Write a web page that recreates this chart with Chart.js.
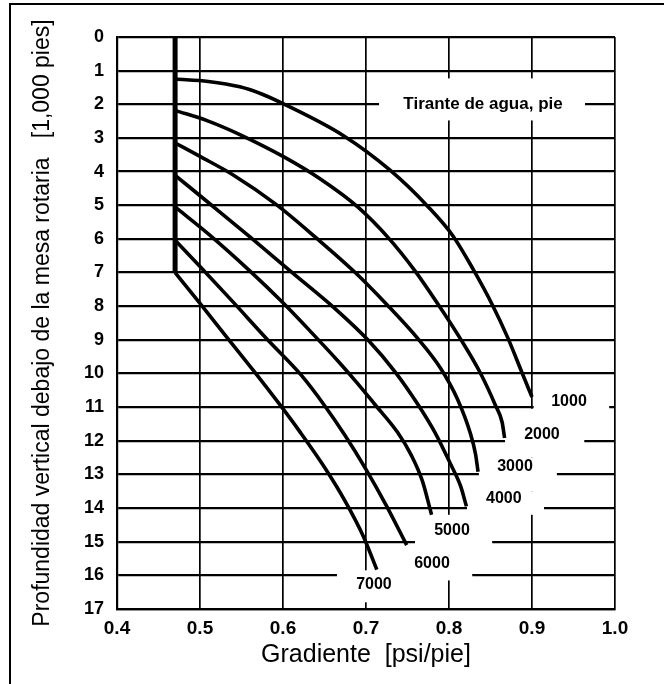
<!DOCTYPE html>
<html>
<head>
<meta charset="utf-8">
<script src="https://cdn.jsdelivr.net/npm/chart.js@4.4.1/dist/chart.umd.min.js"></script>
<style>
  html, body { margin: 0; padding: 0; background: #fff; }
</style>
</head>
<body>
<canvas id="grafica" width="664" height="684"></canvas>
<script>
// ticks
const gradTicks = [0.4, 0.5, 0.6, 0.7, 0.8, 0.9, 1.0];
const gradLabels = ["0.4", "0.5", "0.6", "0.7", "0.8", "0.9", "1.0"];
const profTicks = [0, 1, 2, 3, 4, 5, 6, 7, 8, 9, 10, 11, 12, 13, 14, 15, 16, 17];

// tirante de agua (pie)
const tirantes = [1000, 2000, 3000, 4000, 5000, 6000, 7000];

// linea vertical comun
const gradVertical = [0.47, 0.47];
const profVertical = [0, 7];

// curvas: gradiente [psi/pie] vs profundidad [1,000 pies]
const grad1000 = [0.47, 0.51, 0.548, 0.575, 0.6, 0.672, 0.729, 0.775, 0.805, 0.829, 0.852, 0.871, 0.888, 0.9];
const prof1000 = [1.25, 1.32, 1.48, 1.7, 1.98, 2.92, 3.96, 5.05, 5.92, 6.9, 7.95, 8.95, 9.98, 10.7];

const grad2000 = [0.47, 0.51, 0.548, 0.6, 0.645, 0.69, 0.727, 0.759, 0.787, 0.814, 0.837, 0.856, 0.864, 0.867];
const prof2000 = [2.18, 2.5, 2.9, 3.55, 4.22, 5.05, 5.97, 6.95, 7.95, 8.98, 9.95, 10.95, 11.45, 11.92];

const grad3000 = [0.47, 0.5, 0.54, 0.592, 0.64, 0.687, 0.725, 0.763, 0.79, 0.81, 0.826, 0.832, 0.835];
const prof3000 = [3.15, 3.55, 4.1, 4.98, 5.97, 7.0, 7.95, 8.98, 9.85, 10.75, 11.8, 12.4, 12.92];

const grad4000 = [0.47, 0.514, 0.562, 0.61, 0.664, 0.703, 0.735, 0.762, 0.783, 0.802, 0.814, 0.821];
const prof4000 = [4.11, 5.0, 5.98, 6.98, 8.1, 9.02, 9.95, 10.9, 11.75, 12.7, 13.35, 13.95];

const grad5000 = [0.47, 0.51, 0.56, 0.6, 0.635, 0.667, 0.69, 0.71, 0.738, 0.755, 0.768, 0.779];
const prof5000 = [5.05, 5.85, 6.95, 7.9, 8.8, 9.65, 10.3, 10.9, 11.75, 12.45, 13.2, 14.2];

const grad6000 = [0.47, 0.5, 0.54, 0.58, 0.622, 0.65, 0.675, 0.7, 0.725, 0.749];
const prof6000 = [6.04, 6.82, 7.88, 8.96, 10.05, 10.95, 11.85, 12.85, 13.95, 15.1];

const grad7000 = [0.47, 0.5, 0.53, 0.564, 0.596, 0.62, 0.649, 0.675, 0.697, 0.713];
const prof7000 = [7.0, 7.92, 8.85, 9.9, 10.92, 11.72, 12.75, 13.8, 14.85, 15.83];

const curvas = [
  [grad1000, prof1000], [grad2000, prof2000], [grad3000, prof3000], [grad4000, prof4000],
  [grad5000, prof5000], [grad6000, prof6000], [grad7000, prof7000]
];

// donde van las etiquetas (en unidades del grafico) y los huecos blancos en la reticula
const posEtiquetas = [
  [0.9446, 10.84], [0.912, 11.82], [0.8795, 12.77], [0.866, 13.72],
  [0.8036, 14.67], [0.7795, 15.65], [0.7096, 16.28]
];
const huecos = [
  [0.902, 0.993, 10.5, 11.3],
  [0.8675, 0.963, 11.05, 12.5],
  [0.836, 0.93, 12.5, 13.5],
  [0.8217, 0.9145, 13.5, 14.2],
  [0.759, 0.852, 14.2, 15.4],
  [0.71, 0.828, 15.4, 16.15],
  [0.665, 0.76, 15.85, 16.8],
  [0.7157, 0.9639, 1.23, 2.48]
];

const fuente = "'Liberation Sans', Arial, sans-serif";

function aPuntos(gs, ds) {
  return gs.map((g, i) => ({ x: g, y: ds[i] }));
}

const datasets = curvas.map((c, i) => ({
  label: String(tirantes[i]),
  data: aPuntos(c[0], c[1]),
  showLine: true,
  borderColor: "#000",
  borderWidth: 3.6,
  pointRadius: 0,
  cubicInterpolationMode: "monotone"
}));
datasets.push({
  label: "vertical",
  data: aPuntos(gradVertical, profVertical),
  showLine: true,
  borderColor: "#000",
  borderWidth: 5,
  pointRadius: 0,
  tension: 0
});

const marco = {
  id: "marco",
  beforeDraw(chart) {
    const ctx = chart.ctx;
    ctx.save();
    ctx.fillStyle = "#fff";
    ctx.fillRect(0, 0, chart.width, chart.height);
    ctx.strokeStyle = "#000";
    ctx.lineWidth = 2;
    ctx.beginPath();
    ctx.moveTo(10, 684);
    ctx.lineTo(10, 4);
    ctx.lineTo(664, 4);
    ctx.stroke();
    ctx.restore();
  },
  beforeDatasetsDraw(chart) {
    const { x, y } = chart.scales;
    const ctx = chart.ctx;
    ctx.save();
    ctx.fillStyle = "#fff";
    huecos.forEach(h => {
      const x1 = x.getPixelForValue(h[0]), x2 = x.getPixelForValue(h[1]);
      const y1 = y.getPixelForValue(h[2]), y2 = y.getPixelForValue(h[3]);
      ctx.fillRect(x1, y1, x2 - x1, y2 - y1);
    });
    ctx.restore();
  },
  afterDatasetsDraw(chart) {
    const { x, y } = chart.scales;
    const ctx = chart.ctx;
    ctx.save();
    ctx.fillStyle = "#000";
    ctx.textAlign = "center";
    ctx.textBaseline = "middle";
    ctx.font = "bold 16px " + fuente;
    tirantes.forEach((t, i) => {
      ctx.fillText(String(t), x.getPixelForValue(posEtiquetas[i][0]), y.getPixelForValue(posEtiquetas[i][1]));
    });
    ctx.font = "bold 17px " + fuente;
    ctx.fillText("Tirante de agua, pie", x.getPixelForValue(0.841), y.getPixelForValue(2.0));
    ctx.restore();
  }
};

new Chart(document.getElementById("grafica"), {
  type: "scatter",
  data: { datasets: datasets },
  options: {
    responsive: false,
    animation: false,
    events: [],
    layout: { padding: { left: 0, right: 49, top: 37, bottom: 0 } },
    plugins: { legend: { display: false }, tooltip: { enabled: false } },
    scales: {
      x: {
        type: "linear",
        min: 0.4,
        max: 1.0,
        afterBuildTicks: s => { s.ticks = gradTicks.map(v => ({ value: v })); },
        afterFit: s => { s.height = 75; },
        grid: { color: "#000", lineWidth: 1.7, drawTicks: false },
        border: { color: "#000", width: 2.2 },
        ticks: {
          padding: 8,
          color: "#000",
          font: { family: fuente, size: 19, weight: "bold" },
          callback: (v, i) => gradLabels[i]
        },
        title: {
          display: true,
          text: "Gradiente  [psi/pie]",
          color: "#000",
          font: { family: fuente, size: 25 },
          padding: { top: 0, bottom: 14 }
        }
      },
      y: {
        type: "linear",
        reverse: true,
        min: 0,
        max: 17,
        afterBuildTicks: s => { s.ticks = profTicks.map(v => ({ value: v })); },
        afterFit: s => { s.width = 117; },
        grid: { color: "#000", lineWidth: 2.2, drawTicks: false },
        border: { color: "#000", width: 2.2 },
        ticks: {
          padding: 13,
          color: "#000",
          font: { family: fuente, size: 18, weight: "bold" },
          callback: (v, i) => String(profTicks[i])
        },
        title: {
          display: true,
          text: "Profundidad vertical debajo de la mesa rotaria   [1,000 pies]",
          color: "#000",
          font: { family: fuente, size: 23 },
          padding: { top: 29, bottom: 0 }
        }
      }
    }
  },
  plugins: [marco]
});
</script>
</body>
</html>
